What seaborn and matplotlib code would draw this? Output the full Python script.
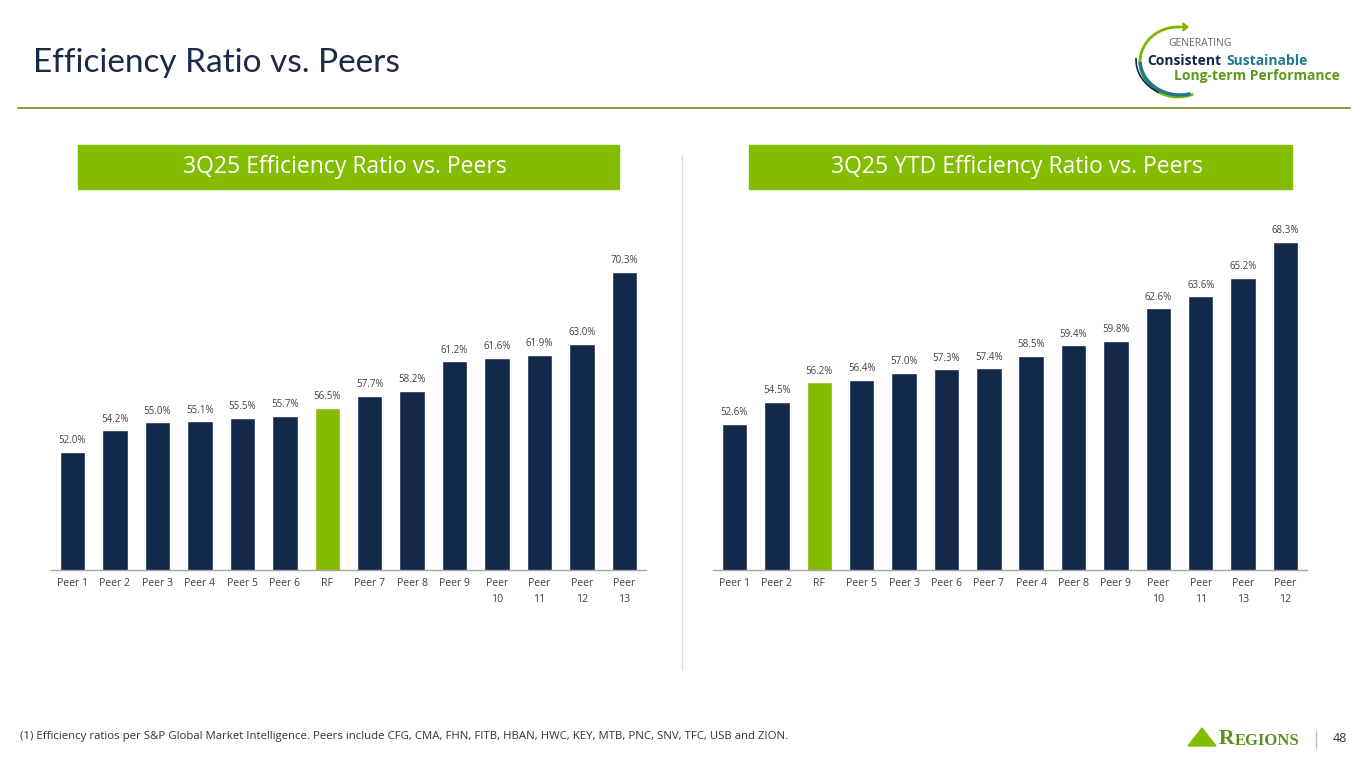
import seaborn as sns
import matplotlib.pyplot as plt
import matplotlib.patches as mpatches
import pandas as pd
import numpy as np

# data
q_names = ["Peer 1", "Peer 2", "Peer 3", "Peer 4", "Peer 5", "Peer 6", "RF",
           "Peer 7", "Peer 8", "Peer 9", "Peer\n10", "Peer\n11", "Peer\n12", "Peer\n13"]
q_values = [52.0, 54.2, 55.0, 55.1, 55.5, 55.7, 56.5, 57.7, 58.2, 61.2, 61.6, 61.9, 63.0, 70.3]

ytd_names = ["Peer 1", "Peer 2", "RF", "Peer 5", "Peer 3", "Peer 6", "Peer 7",
             "Peer 4", "Peer 8", "Peer 9", "Peer\n10", "Peer\n11", "Peer\n13", "Peer\n12"]
ytd_values = [52.6, 54.5, 56.2, 56.4, 57.0, 57.3, 57.4, 58.5, 59.4, 59.8, 62.6, 63.6, 65.2, 68.3]

panel_titles = ["3Q25 Efficiency Ratio vs. Peers", "3Q25 YTD Efficiency Ratio vs. Peers"]
footnote = ("(1) Efficiency ratios per S&P Global Market Intelligence. Peers include CFG, CMA, FHN, "
            "FITB, HBAN, HWC, KEY, MTB, PNC, SNV, TFC, USB and ZION.")

NAVY = "#13294b"
GREEN = "#84bd00"
W, H = 1365, 768

sns.set_theme(style="white")
plt.rcParams['font.family'] = ['Open Sans', 'DejaVu Sans']

fig = plt.figure(figsize=(W / 100, H / 100), dpi=100)
fig.patch.set_facecolor("white")


def px(x, y, w, h):
    # pixel box (top-left origin) -> figure fraction
    return [x / W, 1 - (y + h) / H, w / W, h / H]


def draw_panel(rect, names, values, ymax):
    ax = fig.add_axes(rect)
    df = pd.DataFrame({"name": names, "value": values})
    colors = [GREEN if n == "RF" else NAVY for n in names]
    sns.barplot(data=df, x="name", y="value", hue="name", palette=colors,
                legend=False, width=0.6, saturation=1, ax=ax)
    ax.set_ylim(40, ymax)
    ax.set_xlim(-0.5, len(names) - 0.5)
    ax.set_xlabel("")
    ax.set_ylabel("")
    ax.set_yticks([])
    for s in ["top", "right", "left"]:
        ax.spines[s].set_visible(False)
    ax.spines["bottom"].set_color("#a6a6a6")
    ax.spines["bottom"].set_linewidth(1.0)
    ax.tick_params(axis="x", length=0, pad=6, labelsize=7.6, labelcolor="#404040")
    for lab in ax.get_xticklabels():
        lab.set_linespacing(1.55)
    for c in ax.containers:
        ax.bar_label(c, fmt="%.1f%%", padding=4, fontsize=7, color="#3a4250")
    ax.patch.set_alpha(0)
    return ax


draw_panel(px(51.3, 200, 594.4, 370), q_names, q_values, 40 + 370 / 9.836)
draw_panel(px(713.3, 200, 593.4, 370), ytd_names, ytd_values, 40 + 370 / 11.59)

# panel headers
for (x0, x1), t in zip([(78, 619), (749, 1292)], panel_titles):
    fig.patches.append(mpatches.Rectangle((x0 / W, 1 - 189 / H), (x1 - x0) / W, 44 / H,
                                          transform=fig.transFigure, color=GREEN, zorder=0))
    fig.text((x0 + x1) / 2 / W - 4 / W, 1 - 167 / H, t, ha="center", va="center",
             fontsize=16.5, color="white")

# divider between panels
fig.add_artist(plt.Line2D([682 / W, 682 / W], [1 - 155 / H, 1 - 670 / H],
                          color="#d9d9d9", lw=1))

# slide title and rule
fig.text(33 / W, 1 - 72 / H, "Efficiency Ratio vs. Peers", fontsize=24,
         color="#1b2a47", family=["Lato", "DejaVu Sans"], va="baseline")
fig.add_artist(plt.Line2D([18 / W, 1350 / W], [1 - 107.5 / H, 1 - 107.5 / H],
                          color="#8a9a3a", lw=1.4))

# top-right tagline logo
fig.add_artist(mpatches.Arc((1178 / W, 1 - 62 / H), 76 / W, 70 / H, theta1=88, theta2=285,
                            color="#7ab800", lw=2, transform=fig.transFigure))
fig.add_artist(mpatches.FancyArrow(1176 / W, 1 - 27 / H, 7 / W, 0, width=0.0001,
                                   head_width=8 / H, head_length=5 / W, color="#7ab800",
                                   transform=fig.transFigure))
fig.add_artist(mpatches.Arc((1180 / W, 1 - 60 / H), 80 / W, 70 / H, theta1=185, theta2=280,
                            color="#1f7a8c", lw=2.5, transform=fig.transFigure))
fig.add_artist(mpatches.Arc((1180 / W, 1 - 60 / H), 88 / W, 74 / H, theta1=175, theta2=250,
                            color="#13294b", lw=1.2, transform=fig.transFigure))
fig.text(1168 / W, 1 - 43 / H, "GENERATING", fontsize=7.5, color="#666666", va="center")
fig.text(1221 / W, 1 - 61 / H, "Consistent", fontsize=10, color=NAVY,
         fontweight="bold", va="center", ha="right")
fig.text(1226 / W, 1 - 61 / H, "Sustainable", fontsize=10, color="#1f7a8c",
         fontweight="bold", va="center")
fig.text(1340 / W, 1 - 76 / H, "Long-term Performance", fontsize=10, color="#5c9a1b",
         fontweight="bold", va="center", ha="right")

# footer
fig.text(20 / W, 1 - 736 / H, footnote, fontsize=8.2, color="#333333", va="center")
fig.patches.append(mpatches.Polygon([[1188 / W, 1 - 746 / H], [1216 / W, 1 - 746 / H],
                                     [1202 / W, 1 - 728 / H]], closed=True,
                                    transform=fig.transFigure, color="#84bd00"))
fig.text(1219 / W, 1 - 739.5 / H, "R", fontsize=15.5, color="#5f8f1f",
         family=["Liberation Serif", "DejaVu Serif"], fontweight="bold", va="center")
fig.text(1235 / W, 1 - 741 / H, "EGIONS", fontsize=12, color="#5f8f1f",
         family=["Liberation Serif", "DejaVu Serif"], fontweight="bold", va="center")
fig.add_artist(plt.Line2D([1316 / W, 1316 / W], [1 - 731 / H, 1 - 748 / H],
                          color="#bfbfbf", lw=1))
fig.text(1340 / W, 1 - 739 / H, "48", fontsize=9, color="#333333", ha="center", va="center")

fig.savefig("out.png", dpi=100, facecolor="white")
